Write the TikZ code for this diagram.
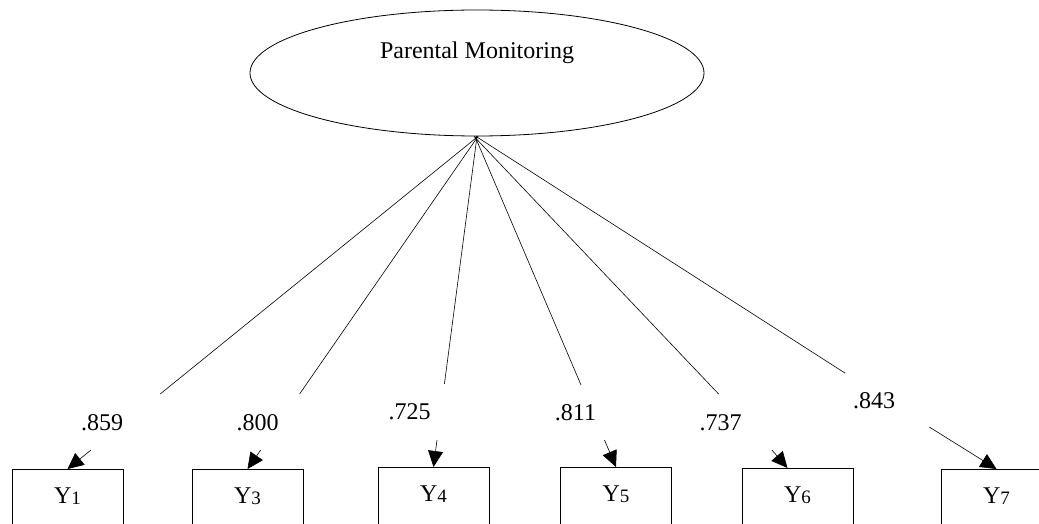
\documentclass[tikz,border=0pt]{standalone}
\usepackage{fontspec}
\setmainfont{Liberation Serif}
\usetikzlibrary{shapes.geometric,arrows.meta}
\newcommand\ysub[1]{Y\raisebox{-1.5pt}{\fontsize{19}{19}\selectfont #1}}
\begin{document}
\begin{tikzpicture}[x=1pt,y=-1pt,
  font=\fontsize{24}{28}\selectfont,
  latent/.style={draw, ellipse, line width=0.8pt, minimum width=454pt, minimum height=126pt,
    inner sep=0pt, text height=17pt, text depth=45pt},
  obs/.style={draw, rectangle, line width=0.8pt, minimum width=111pt, inner xsep=0pt, inner ysep=0pt,
    text height=34pt, text depth=40pt, anchor=north},
  lbl/.style={anchor=base, inner sep=0pt},
  link/.style={line width=0.6pt},
  arr/.style={line width=0.6pt, -{Triangle[length=16pt,width=15pt]}}]
\useasboundingbox (0,0) rectangle (1039,524);

\node[latent] (pm) at (477,73) {Parental Monitoring};

\node[obs] (y1) at (67.5,469) {\ysub{1}};
\node[obs] (y3) at (247.5,469) {\ysub{3}};
\node[obs] (y4) at (433.5,467) {\ysub{4}};
\node[obs] (y5) at (616,467) {\ysub{5}};
\node[obs] (y6) at (797.5,468) {\ysub{6}};
\node[obs] (y7) at (996.5,469) {\ysub{7}};

\node[lbl] (l1) at (102,430) {.859};
\node[lbl] (l3) at (257.5,430) {.800};
\node[lbl] (l4) at (409.5,419) {.725};
\node[lbl] (l5) at (575.5,420) {.811};
\node[lbl] (l6) at (720.5,430) {.737};
\node[lbl] (l7) at (874,408) {.843};

\coordinate (a1) at (160.2,394); \coordinate (b1) at (91,450);
\coordinate (a3) at (299.6,394); \coordinate (b3) at (260.7,450);
\coordinate (a4) at (444.4,384); \coordinate (b4) at (437,440);
\coordinate (a5) at (581,385);   \coordinate (b5) at (604.5,440);
\coordinate (a6) at (718.6,394); \coordinate (b6) at (771.9,450);
\coordinate (a7) at (844.9,373); \coordinate (b7) at (929.3,427);

\draw[link] ([xshift=1pt]pm.south) -- (a1);
\draw[arr] (b1) -- (y1.north);
\draw[link] ([xshift=1pt]pm.south) -- (a3);
\draw[arr] (b3) -- (y3.north);
\draw[link] ([xshift=0pt]pm.south) -- (a4);
\draw[arr] (b4) -- (y4.north);
\draw[link] ([xshift=-2pt]pm.south) -- (a5);
\draw[arr] (b5) -- (y5.north);
\draw[link] ([xshift=-3pt]pm.south) -- (a6);
\draw[arr] (b6) -- ([xshift=-10pt]y6.north);
\draw[link] ([xshift=-1pt]pm.south) -- (a7);
\draw[arr] (b7) -- (y7.north);
\end{tikzpicture}
\end{document}
